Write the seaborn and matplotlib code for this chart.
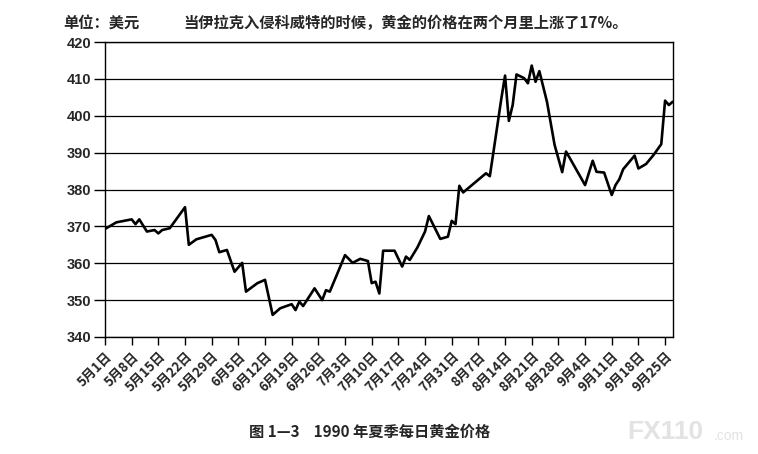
import matplotlib
matplotlib.use("Agg")
import matplotlib.pyplot as plt
import seaborn as sns
import pandas as pd
import numpy as np

# ---- data ----
dates = ["05-01", "05-04", "05-08", "05-09", "05-10", "05-12", "05-14", "05-15",
         "05-16", "05-18", "05-22", "05-23", "05-25", "05-26", "05-29", "05-30",
         "05-31", "06-02", "06-04", "06-06", "06-07", "06-10", "06-12", "06-14",
         "06-16", "06-19", "06-20", "06-21", "06-22", "06-25", "06-27", "06-28",
         "06-29", "07-03", "07-05", "07-07", "07-09", "07-10", "07-11", "07-12",
         "07-13", "07-16", "07-18", "07-19", "07-20", "07-22", "07-24", "07-25",
         "07-28", "07-30", "07-31", "08-01", "08-02", "08-03", "08-09", "08-10",
         "08-11", "08-12", "08-13", "08-14", "08-15", "08-16", "08-17", "08-19",
         "08-20", "08-21", "08-22", "08-23", "08-25", "08-27", "08-29", "08-30",
         "08-31", "09-04", "09-06", "09-07", "09-09", "09-11", "09-12", "09-13",
         "09-14", "09-17", "09-18", "09-20", "09-22", "09-24", "09-25", "09-26",
         "09-27"]
prices = [369.3, 371.1, 371.9, 370.6, 371.9, 368.6, 369.0, 368.1,
          369.0, 369.5, 375.2, 365.0, 366.5, 366.8, 367.7, 366.3,
          363.0, 363.6, 357.7, 360.1, 352.3, 354.6, 355.5, 346.0,
          347.8, 348.9, 347.3, 349.6, 348.4, 353.2, 350.0, 352.7,
          352.3, 362.2, 360.1, 361.2, 360.6, 354.6, 355.0, 351.8,
          363.4, 363.4, 359.1, 361.8, 360.9, 364.3, 368.6, 372.8,
          366.6, 367.2, 371.5, 370.6, 381.0, 379.2, 384.4, 383.6,
          390.5, 397.5, 404.5, 410.9, 398.6, 402.9, 411.2, 410.2,
          408.8, 413.6, 409.2, 412.1, 403.8, 392.1, 384.7, 390.3,
          388.5, 381.2, 387.8, 384.8, 384.6, 378.5, 381.2, 382.8,
          385.5, 389.2, 385.7, 386.9, 389.4, 392.3, 404.1, 402.9,
          403.8]
tick_dates = ["05-01", "05-08", "05-15", "05-22", "05-29", "06-05", "06-12",
              "06-19", "06-26", "07-03", "07-10", "07-17", "07-24", "07-31",
              "08-07", "08-14", "08-21", "08-28", "09-04", "09-11", "09-18",
              "09-25"]
y_ticks = [340, 350, 360, 370, 380, 390, 400, 410, 420]

unit_text = "单位：美元"
title_text = "当伊拉克入侵科威特的时候，黄金的价格在两个月里上涨了17%。"
caption_text = "图 1—3    1990 年夏季每日黄金价格"

# ---- figure ----
sns.set_style("white")
plt.rcParams['font.family'] = ['Noto Sans CJK SC', 'DejaVu Sans']

df = pd.DataFrame({"date": pd.to_datetime(["1990-" + d for d in dates]),
                   "price": prices})
ticks = pd.to_datetime(["1990-" + d for d in tick_dates])
tick_labels = [f"{t.month}月{t.day}日" for t in ticks]

fig = plt.figure(figsize=(7.58, 4.54), dpi=100)
ax = fig.add_axes([105 / 758, 1 - 337 / 454, (672.7 - 105) / 758, (337 - 42) / 454])

sns.lineplot(data=df, x="date", y="price", color="black", linewidth=1.9,
             errorbar=None, sort=True, ax=ax)

ax.set_xlim(pd.Timestamp("1990-05-01"), pd.Timestamp("1990-09-27"))
ax.set_ylim(340, 420)
ax.set_yticks(y_ticks)
ax.set_yticklabels([str(v) for v in y_ticks], fontsize=10.5,
                   fontweight="bold", family=["Liberation Sans", "DejaVu Sans"])
ax.set_xticks(ticks)
ax.set_xticklabels(tick_labels, rotation=45, ha="right", va="top",
                   rotation_mode="anchor", fontsize=9.5, fontweight="bold")
ax.set_xlabel("")
ax.set_ylabel("")

ax.yaxis.grid(True, color="black", linewidth=0.9)
ax.xaxis.grid(False)
for side in ["left", "right", "bottom", "top"]:
    ax.spines[side].set_visible(True)
    ax.spines[side].set_color("black")
    ax.spines[side].set_linewidth(1.0)
ax.tick_params(axis="y", direction="out", length=8, width=1, pad=2, color="black")
ax.tick_params(axis="x", direction="out", length=6, width=1, pad=3, color="black",
               bottom=True)
ax.tick_params(axis="y", left=True)

fig.text(63 / 758, 1 - 23 / 454, unit_text, fontsize=11, fontweight="bold",
         ha="left", va="center")
fig.text(183 / 758, 1 - 23 / 454, title_text, fontsize=11, fontweight="bold",
         ha="left", va="center")
fig.text(370 / 758, 1 - 432 / 454, caption_text, fontsize=11, fontweight="bold",
         ha="center", va="center")
fig.text(627 / 758, 1 - 432 / 454, "FX110", fontsize=19, fontweight="bold",
         color="#e3e3e3", ha="left", va="center",
         family=["Liberation Sans", "DejaVu Sans"])
fig.text(714 / 758, 1 - 436 / 454, ".com", fontsize=10,
         color="#e3e3e3", ha="left", va="center",
         family=["Liberation Sans", "DejaVu Sans"])

fig.savefig("out.png", dpi=100)
